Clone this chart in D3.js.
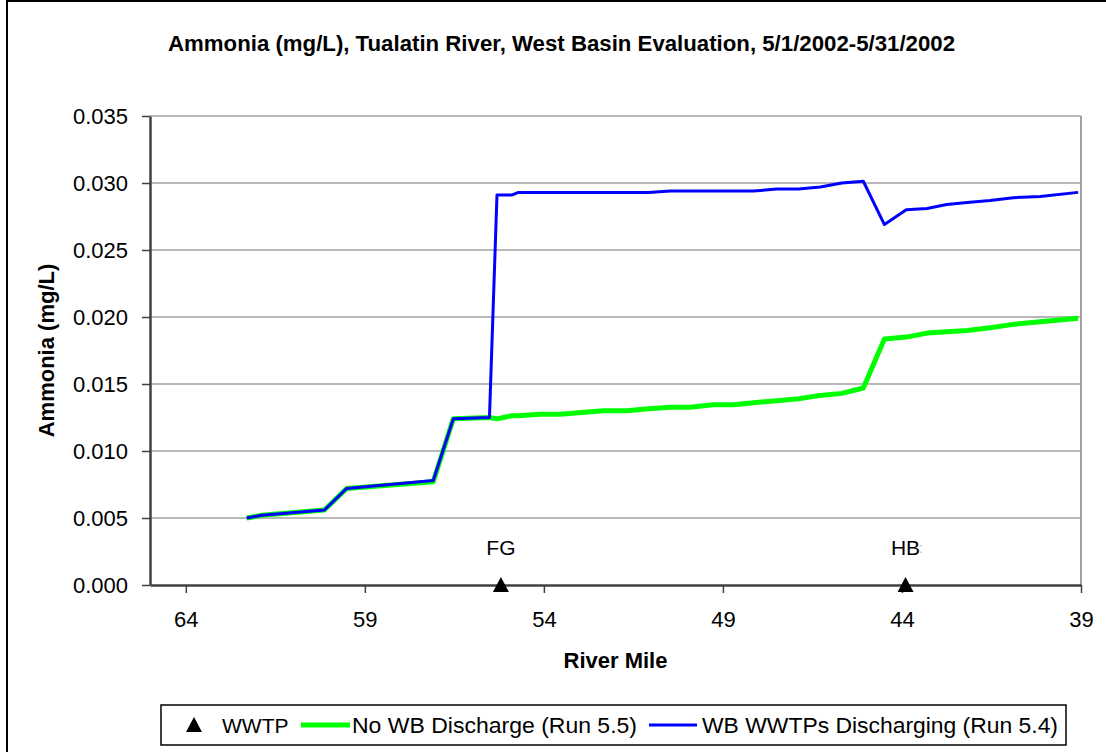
<!DOCTYPE html>
<html>
<head>
<meta charset="utf-8">
<script src="https://cdn.jsdelivr.net/npm/d3@7"></script>
<style>
  html, body { margin: 0; padding: 0; background: #fff; }
  svg { display: block; font-family: "Liberation Sans", Arial, sans-serif; }
</style>
</head>
<body>
<svg id="chart" width="1106" height="752"></svg>
<script>
// ---- data ----
const riverMile = [62.30, 61.88, 60.13, 59.51, 57.09, 56.53, 55.52, 55.31, 54.90, 54.71,
  54.11, 53.55, 52.34, 51.68, 51.08, 50.47, 49.92, 49.27, 48.71, 48.15, 47.49, 46.89,
  46.28, 45.68, 45.08, 44.49, 43.88, 43.30, 42.75, 42.18, 41.54, 40.89, 40.14, 39.08];
const noWBDischarge = [0.0050, 0.0052, 0.0056, 0.0072, 0.0077, 0.0124, 0.0125, 0.0124, 0.01263, 0.01263,
  0.01275, 0.01275, 0.0130, 0.0130, 0.01315, 0.01327, 0.01327, 0.01345, 0.01345, 0.0136, 0.01375, 0.0139,
  0.01415, 0.0143, 0.0147, 0.01835, 0.0185, 0.0188, 0.0189, 0.0190, 0.0192, 0.01945, 0.01965, 0.0199];
const wbDischarging = [0.0050, 0.0052, 0.0056, 0.0072, 0.0078, 0.0124, 0.0125, 0.0291, 0.0291, 0.0293,
  0.0293, 0.0293, 0.0293, 0.0293, 0.0293, 0.0294, 0.0294, 0.0294, 0.0294, 0.0294, 0.02955, 0.02955,
  0.0297, 0.0300, 0.03013, 0.0269, 0.0280, 0.0281, 0.0284, 0.02855, 0.0287, 0.0289, 0.0290, 0.0293];
const wwtpMile = [55.2, 43.9];
const wwtpLabels = ["FG", "HB"];
const xTicks = [64, 59, 54, 49, 44, 39];
const yTicks = [0, 0.005, 0.010, 0.015, 0.020, 0.025, 0.030, 0.035];
const titleText = "Ammonia (mg/L), Tualatin River, West Basin Evaluation, 5/1/2002-5/31/2002";
const seriesNames = ["WWTP", "No WB Discharge (Run 5.5)", "WB WWTPs Discharging (Run 5.4)"];

// ---- layout ----
const svg = d3.select("#chart");
const L = 150, R = 1081, T = 116, B = 585;
const x = d3.scaleLinear().domain([65, 39]).range([L, R]);
const y = d3.scaleLinear().domain([0, 0.035]).range([B, T]);

// outer frame
svg.append("rect").attr("x", 7).attr("y", 1).attr("width", 1120).attr("height", 780)
  .attr("fill", "none").attr("stroke", "#000").attr("stroke-width", 2);

// title
svg.append("text").attr("x", 561.5).attr("y", 51).attr("text-anchor", "middle")
  .attr("font-size", 22).attr("font-weight", "bold").attr("textLength", 787)
  .attr("lengthAdjust", "spacingAndGlyphs").text(titleText);

// gridlines
svg.append("g").selectAll("line").data(yTicks.filter(d => d > 0)).join("line")
  .attr("x1", L).attr("x2", R).attr("y1", d => y(d)).attr("y2", d => y(d))
  .attr("stroke", "#a0a0a0").attr("stroke-width", 1.5);
// right border
svg.append("line").attr("x1", R).attr("x2", R).attr("y1", T).attr("y2", B)
  .attr("stroke", "#a0a0a0").attr("stroke-width", 2);

// y axis
const yAxis = d3.axisLeft(y).tickValues(yTicks).tickFormat(d3.format(".3f"))
  .tickSize(8).tickSizeOuter(0).tickPadding(14);
const gy = svg.append("g").attr("transform", `translate(${L},0)`).call(yAxis);
gy.select(".domain").attr("stroke", "#404040").attr("stroke-width", 2.5);
gy.selectAll(".tick line").attr("stroke", "#404040").attr("stroke-width", 1.5);
gy.selectAll(".tick text").attr("font-size", 22).attr("fill", "#000")
  .attr("font-family", "Liberation Sans, Arial, sans-serif");

// x axis
const xAxis = d3.axisBottom(x).tickValues(xTicks).tickFormat(d3.format("d"))
  .tickSize(8).tickSizeOuter(0).tickPadding(18);
const gx = svg.append("g").attr("transform", `translate(0,${B})`).call(xAxis);
gx.select(".domain").attr("stroke", "#404040").attr("stroke-width", 2.5);
gx.selectAll(".tick line").attr("stroke", "#404040").attr("stroke-width", 1.5);
gx.selectAll(".tick text").attr("font-size", 22).attr("fill", "#000")
  .attr("font-family", "Liberation Sans, Arial, sans-serif");

// axis titles
svg.append("text").attr("x", x(52)).attr("y", 668).attr("text-anchor", "middle")
  .attr("font-size", 22).attr("font-weight", "bold").text("River Mile");
svg.append("text").attr("transform", "translate(54,350.5) rotate(-90)").attr("text-anchor", "middle")
  .attr("font-size", 22).attr("font-weight", "bold").text("Ammonia (mg/L)");

// lines
const line = d3.line().x((d, i) => x(riverMile[i])).y(d => y(d));
svg.append("path").datum(noWBDischarge).attr("d", line).attr("fill", "none")
  .attr("stroke", "#00ff00").attr("stroke-width", 5).attr("stroke-linejoin", "round");
svg.append("path").datum(wbDischarging).attr("d", line).attr("fill", "none")
  .attr("stroke", "#0000ff").attr("stroke-width", 3).attr("stroke-linejoin", "round");

// WWTP markers
const tri = (cx, cy) => `M${cx},${cy - 8}L${cx + 8},${cy + 7}L${cx - 8},${cy + 7}Z`;
svg.append("g").selectAll("path").data(wwtpMile).join("path")
  .attr("d", d => tri(x(d), y(0))).attr("fill", "#000");
svg.append("g").selectAll("text").data(wwtpLabels).join("text")
  .attr("x", (d, i) => x(wwtpMile[i])).attr("y", 555).attr("text-anchor", "middle")
  .attr("font-size", 21).text(d => d);
svg.append("text").attr("x", 921).attr("y", 553).attr("text-anchor", "middle")
  .attr("font-size", 14).attr("fill", "#bbb").text(":");

// legend
const lg = svg.append("g");
lg.append("rect").attr("x", 161).attr("y", 705).attr("width", 905).attr("height", 40)
  .attr("fill", "#fff").attr("stroke", "#000").attr("stroke-width", 1.5);
lg.append("path").attr("d", tri(194, 725)).attr("fill", "#000");
lg.append("text").attr("x", 222).attr("y", 733).attr("font-size", 21).text(seriesNames[0]);
lg.append("line").attr("x1", 301).attr("x2", 350).attr("y1", 725).attr("y2", 725)
  .attr("stroke", "#00ff00").attr("stroke-width", 5);
lg.append("text").attr("x", 352).attr("y", 733).attr("font-size", 22)
  .attr("textLength", 285).attr("lengthAdjust", "spacingAndGlyphs").text(seriesNames[1]);
lg.append("line").attr("x1", 649).attr("x2", 697).attr("y1", 725).attr("y2", 725)
  .attr("stroke", "#0000ff").attr("stroke-width", 3);
lg.append("text").attr("x", 702).attr("y", 733).attr("font-size", 22)
  .attr("textLength", 356).attr("lengthAdjust", "spacingAndGlyphs").text(seriesNames[2]);
</script>
</body>
</html>
